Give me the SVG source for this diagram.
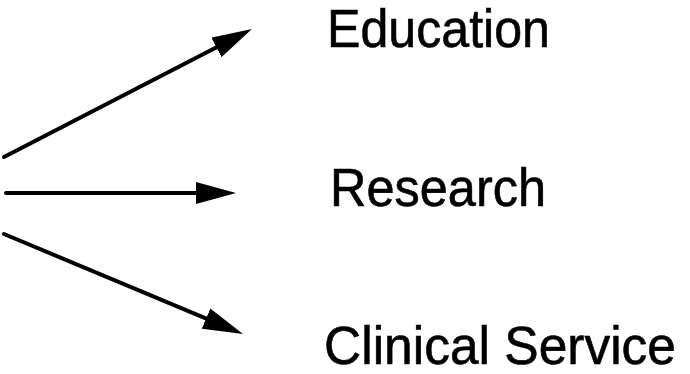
<svg xmlns="http://www.w3.org/2000/svg" width="690" height="374" viewBox="0 0 690 374">
  <style>
    .label { font-family: "Liberation Sans", Arial, sans-serif; font-size: 53px; fill: #000; stroke: #000; stroke-width: 0.6; }
    .conn { stroke: #000; stroke-width: 4; fill: none; stroke-linecap: round; }
  </style>
  <defs>
    <marker id="head" viewBox="0 0 40 22" refX="10" refY="11" markerWidth="40" markerHeight="22" markerUnits="userSpaceOnUse" orient="auto">
      <path d="M0,0 L40,11 L0,22 Z" fill="#000"/>
    </marker>
  </defs>
  <rect width="690" height="374" fill="#fff"/>

  <g id="connectors">
    <line class="conn" x1="4" y1="157" x2="225.3" y2="42.8" marker-end="url(#head)"/>
    <line class="conn" x1="6" y1="193" x2="206" y2="193" marker-end="url(#head)"/>
    <line class="conn" x1="4" y1="234" x2="215.3" y2="322.4" marker-end="url(#head)"/>
  </g>

  <g id="education">
    <text class="label" x="327" y="47" textLength="223" lengthAdjust="spacingAndGlyphs">Education</text>
  </g>
  <g id="research">
    <text class="label" x="330" y="206" textLength="216" lengthAdjust="spacingAndGlyphs">Research</text>
  </g>
  <g id="clinical-service">
    <text class="label" x="324" y="364" textLength="352" lengthAdjust="spacingAndGlyphs">Clinical Service</text>
  </g>
</svg>
